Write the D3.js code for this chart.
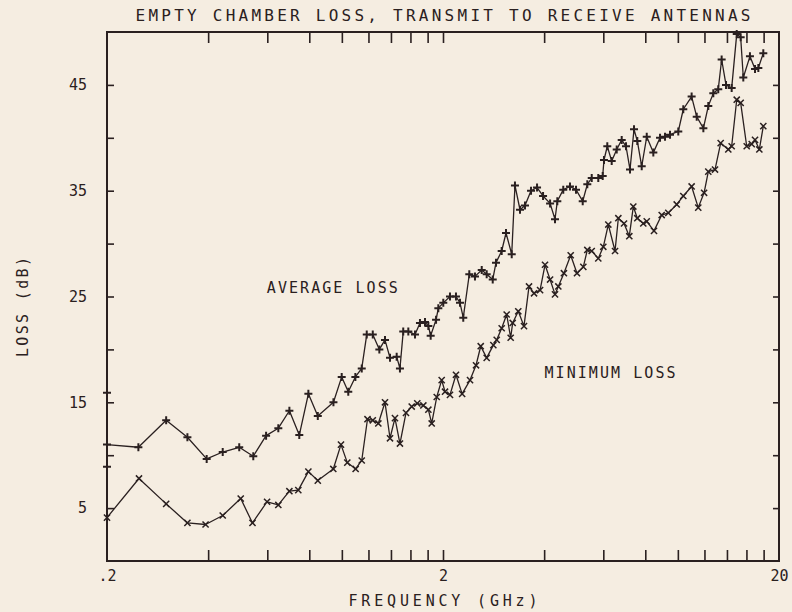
<!DOCTYPE html>
<html><head><meta charset="utf-8">
<script src="https://cdn.jsdelivr.net/npm/d3@7"></script>
<style>html,body{margin:0;padding:0;background:#f5ede1;}svg{display:block}</style>
</head><body>
<svg id="chart" width="792" height="612"></svg>
<script>
// ---------- data ----------
const titleText = "EMPTY CHAMBER LOSS, TRANSMIT TO RECEIVE ANTENNAS";
const xAxisTitle = "FREQUENCY (GHz)";
const yAxisTitle = "LOSS (dB)";
const xLabelValues = [0.2, 2, 20];
const xLabelTexts = [".2", "2", "20"];
const xMinorTicks = [0.4, 0.6, 0.8, 1.0, 1.2, 1.4, 1.6, 1.8, 2, 4, 6, 8, 10, 12, 14, 16, 18];
const yLabelValues = [5, 15, 25, 35, 45];
const yTickValues = [5, 10, 15, 20, 25, 30, 35, 40, 45];
const seriesNames = ["AVERAGE LOSS", "MINIMUM LOSS"];
const seriesLabelFreq = [0.598, 4.01];
const seriesLabelLoss = [25.35, 17.3];

const avgFreq = [0.2, 0.2, 0.2, 0.248, 0.300, 0.347, 0.396, 0.442, 0.495, 0.545, 0.595, 0.647, 0.698, 0.747, 0.795, 0.848, 0.944, 0.999, 1.045, 1.097, 1.146, 1.186, 1.236, 1.293, 1.344, 1.391, 1.456, 1.489, 1.523, 1.577, 1.651, 1.708, 1.768, 1.809, 1.838, 1.907, 1.937, 2.004, 2.098, 2.186, 2.247, 2.298, 2.395, 2.490, 2.608, 2.698, 2.812, 2.876, 2.990, 3.080, 3.203, 3.275, 3.390, 3.508, 3.656, 3.810, 3.970, 4.166, 4.309, 4.378, 4.560, 4.775, 4.976, 5.210, 5.377, 5.542, 5.797, 5.975, 6.028, 6.166, 6.355, 6.577, 6.806, 7.010, 7.204, 7.405, 7.574, 7.806, 8.080, 8.453, 8.850, 9.158, 9.477, 10.03, 10.38, 10.99, 11.38, 11.91, 12.32, 12.75, 13.19, 13.50, 13.91, 14.46, 14.97, 15.38, 15.66, 16.39, 16.97, 17.36, 17.96];
const avgLoss = [15.9, 8.9, 11.0, 10.75, 13.3, 11.7, 9.65, 10.3, 10.75, 9.9, 11.85, 12.55, 14.2, 11.9, 15.8, 13.7, 15.0, 17.4, 16.0, 17.4, 18.2, 21.4, 21.4, 20.0, 20.9, 19.2, 19.3, 18.2, 21.7, 21.7, 21.4, 22.5, 22.6, 22.2, 21.3, 22.8, 23.9, 24.4, 25.0, 25.0, 24.4, 23.0, 27.1, 26.9, 27.5, 27.1, 26.6, 28.2, 29.3, 31.0, 29.0, 35.5, 33.2, 33.6, 35.0, 35.3, 34.5, 33.8, 32.3, 34.0, 35.1, 35.4, 35.1, 34.0, 35.6, 36.2, 36.2, 36.4, 37.9, 39.2, 37.8, 38.9, 39.8, 39.2, 37.0, 40.8, 39.7, 37.3, 40.1, 38.6, 40.0, 40.1, 40.3, 40.6, 42.7, 43.9, 42.0, 40.9, 43.0, 44.2, 44.6, 47.4, 45.0, 44.7, 49.8, 49.5, 45.7, 47.7, 46.5, 46.6, 48.0];

const minFreq = [0.2, 0.249, 0.300, 0.347, 0.393, 0.442, 0.500, 0.542, 0.599, 0.647, 0.698, 0.742, 0.795, 0.848, 0.943, 0.994, 1.038, 1.099, 1.146, 1.192, 1.236, 1.284, 1.344, 1.391, 1.439, 1.489, 1.552, 1.614, 1.677, 1.748, 1.809, 1.851, 1.916, 1.982, 2.028, 2.098, 2.186, 2.28, 2.407, 2.508, 2.590, 2.698, 2.824, 2.890, 2.990, 3.094, 3.180, 3.224, 3.350, 3.484, 3.606, 3.732, 3.890, 4.024, 4.166, 4.309, 4.408, 4.58, 4.798, 5.010, 5.232, 5.377, 5.542, 5.797, 6.000, 6.209, 6.502, 6.651, 6.915, 7.170, 7.369, 7.574, 7.891, 8.080, 8.492, 8.952, 9.366, 9.922, 10.38, 10.99, 11.50, 11.97, 12.32, 12.90, 13.41, 14.13, 14.46, 14.97, 15.38, 16.03, 16.59, 16.97, 17.48, 17.96];
const minLoss = [4.1, 7.8, 5.4, 3.6, 3.45, 4.3, 5.9, 3.6, 5.6, 5.3, 6.6, 6.7, 8.45, 7.6, 8.7, 11.0, 9.3, 8.7, 9.5, 13.4, 13.3, 13.0, 15.0, 11.6, 13.5, 11.1, 14.0, 14.6, 14.9, 14.7, 14.3, 13.0, 15.5, 17.1, 16.0, 15.7, 17.6, 15.8, 17.1, 18.5, 20.3, 19.2, 20.4, 20.9, 22.0, 23.3, 21.1, 22.5, 23.6, 22.2, 25.95, 25.3, 25.6, 28.0, 26.6, 25.2, 25.95, 27.2, 28.9, 27.2, 27.8, 29.4, 29.3, 28.6, 29.7, 31.8, 29.3, 32.4, 31.9, 30.7, 33.5, 32.4, 31.9, 32.1, 31.2, 32.7, 32.9, 33.7, 34.5, 35.4, 33.4, 34.8, 36.8, 37.0, 39.5, 38.9, 39.2, 43.6, 43.3, 39.2, 39.4, 39.8, 38.9, 41.1];

// ---------- drawing ----------
(function () {
const ink = "#2a2020";
const font = "'DejaVu Sans Mono', 'Liberation Mono', monospace";
const svg = d3.select("#chart");
svg.append("rect").attr("width", 792).attr("height", 612).attr("fill", "#f5ede1");

const pL = 107, pR = 779, pT = 32, pB = 561;
const x = d3.scaleLog().domain([0.2, 20]).range([pL, pR]);
const y = d3.scaleLinear().domain([0, 50]).range([pB, pT]);

function styleAxis(g) {
  g.select(".domain").remove();
  g.selectAll(".tick line").attr("stroke", ink).attr("stroke-width", 1.6);
  g.selectAll(".tick text").attr("fill", ink).style("font-family", font).style("font-size", "15px");
}

svg.append("g").attr("transform", `translate(0,${pB})`)
  .call(d3.axisBottom(x).tickValues(xMinorTicks).tickSize(-11).tickFormat(""))
  .call(styleAxis);
svg.append("g").attr("transform", `translate(0,${pT})`)
  .call(d3.axisTop(x).tickValues(xMinorTicks).tickSize(-11).tickFormat(""))
  .call(styleAxis);
svg.append("g").attr("transform", `translate(${pL},0)`)
  .call(d3.axisLeft(y).tickValues(yTickValues).tickSize(-7).tickFormat(""))
  .call(styleAxis);
svg.append("g").attr("transform", `translate(${pR},0)`)
  .call(d3.axisRight(y).tickValues(yTickValues).tickSize(-6).tickFormat(""))
  .call(styleAxis);

svg.append("g").attr("transform", `translate(0,${pB})`)
  .call(d3.axisBottom(x).tickValues(xLabelValues).tickSize(0).tickPadding(9)
    .tickFormat((d, i) => xLabelTexts[i]))
  .call(styleAxis);
svg.append("g").attr("transform", `translate(${pL},0)`)
  .call(d3.axisLeft(y).tickValues(yLabelValues).tickSize(0).tickPadding(20))
  .call(styleAxis);

svg.append("rect").attr("x", pL).attr("y", pT).attr("width", pR - pL).attr("height", pB - pT)
  .attr("fill", "none").attr("stroke", ink).attr("stroke-width", 2);

svg.append("text").attr("x", (pL + pR) / 2).attr("y", 21).attr("text-anchor", "middle")
  .attr("textLength", 615).attr("lengthAdjust", "spacing")
  .style("font-family", font).style("font-size", "16px").attr("fill", ink).text(titleText);
svg.append("text").attr("x", (pL + pR) / 2).attr("y", 606).attr("text-anchor", "middle")
  .attr("textLength", 189).attr("lengthAdjust", "spacing")
  .style("font-family", font).style("font-size", "15px").attr("fill", ink).text(xAxisTitle);
svg.append("text").attr("transform", `translate(28,307) rotate(-90)`).attr("text-anchor", "middle")
  .attr("textLength", 100).attr("lengthAdjust", "spacing")
  .style("font-family", font).style("font-size", "15px").attr("fill", ink).text(yAxisTitle);

const avgData = avgFreq.map((f, i) => [f, avgLoss[i]]);
const minData = minFreq.map((f, i) => [f, minLoss[i]]);
const line = d3.line().x(d => x(d[0])).y(d => y(d[1]));

const plusSym = { draw(ctx, size) { const r = Math.sqrt(size) / 2; ctx.moveTo(-r, 0); ctx.lineTo(r, 0); ctx.moveTo(0, -r); ctx.lineTo(0, r); } };
const timesSym = { draw(ctx, size) { const r = Math.sqrt(size) / 2.6; ctx.moveTo(-r, -r); ctx.lineTo(r, r); ctx.moveTo(-r, r); ctx.lineTo(r, -r); } };

const series = [
  { data: avgData, sym: plusSym, sw: 2.0 },
  { data: minData, sym: timesSym, sw: 1.5 }
];
series.forEach(s => {
  svg.append("path").datum(s.data).attr("d", line)
    .attr("fill", "none").attr("stroke", ink).attr("stroke-width", 1.3).attr("stroke-linejoin", "round");
  svg.append("g").selectAll("path").data(s.data).join("path")
    .attr("transform", d => `translate(${x(d[0])},${y(d[1])})`)
    .attr("d", d3.symbol().type(s.sym).size(64))
    .attr("fill", "none").attr("stroke", ink).attr("stroke-width", s.sw);
});

seriesNames.forEach((n, i) => {
  svg.append("text").attr("x", x(seriesLabelFreq[i])).attr("y", y(seriesLabelLoss[i]))
    .attr("textLength", 131).attr("lengthAdjust", "spacing")
    .style("font-family", font).style("font-size", "15px").attr("fill", ink).text(n);
});
})();
</script>
</body></html>
